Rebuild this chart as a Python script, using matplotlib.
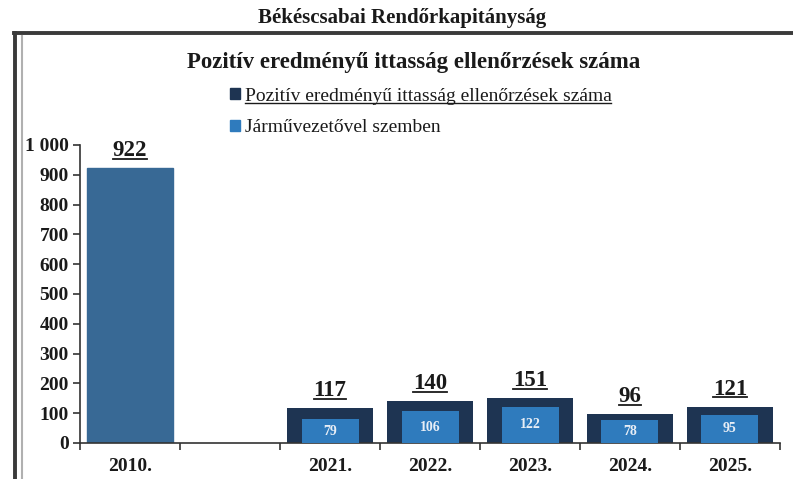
import numpy as np
import matplotlib
matplotlib.use("Agg")
import matplotlib.pyplot as plt
from matplotlib.patches import Patch
from matplotlib.lines import Line2D
from matplotlib.ticker import FixedLocator, FuncFormatter

plt.rcParams['font.family'] = ['Liberation Serif', 'DejaVu Serif']

# data
years = ['2010.', '', '2021.', '2022.', '2023.', '2024.', '2025.']
total = [922, np.nan, 117, 140, 151, 96, 121]
driver = [np.nan, np.nan, 79, 106, 122, 78, 95]
series_names = ['Pozitív eredményű ittasság ellenőrzések száma',
                'Járművezetővel szemben']

c_first = '#386995'
c_total = '#1e3452'
c_driver = '#2f7bbd'

fig = plt.figure(figsize=(7.93, 4.79), dpi=100)
ax = fig.add_axes([0.1009, 0.0752, 0.8827, 0.6221])

x = np.arange(len(years))
bars = ax.bar(x, total, width=0.86, color=c_total, zorder=2)
bars[0].set_color(c_first)
inner = ax.bar(x, driver, width=0.57, color=c_driver, zorder=3)

ax.set_xlim(-0.5, len(years) - 0.5)
ax.set_ylim(0, 1000)

# axes styling
for s in ['top', 'right']:
    ax.spines[s].set_visible(False)
ax.spines['left'].set_color('#333333')
ax.spines['bottom'].set_color('#333333')
ax.spines['left'].set_linewidth(1.2)
ax.spines['bottom'].set_linewidth(1.2)

ax.set_yticks(np.arange(0, 1001, 100))
ax.yaxis.set_major_formatter(FuncFormatter(
    lambda v, p: f'{int(v):,}'.replace(',', ' ')))
ax.tick_params(axis='y', length=5, width=1.2, color='#333333', labelsize=14, pad=3)

ax.set_xticks(x)
ax.set_xticklabels(years)
ax.xaxis.set_minor_locator(FixedLocator(np.arange(-0.5, len(years), 1.0)))
ax.tick_params(axis='x', which='major', length=0, labelsize=14, pad=11)
ax.tick_params(axis='x', which='minor', length=5, width=1.2, color='#333333')
for lab in ax.get_xticklabels() + ax.get_yticklabels():
    lab.set_fontweight('bold')
    lab.set_color('#1a1a1a')

# value labels
top_labels = []
for xi, v in zip(x, total):
    if np.isnan(v):
        continue
    t = ax.annotate(f'{int(v)}', (xi, v), xytext=(0, 5), textcoords='offset points',
                    ha='center', va='bottom', fontsize=16.5, fontweight='bold',
                    color='#1a1a1a')
    top_labels.append(t)
for xi, v in zip(x, driver):
    if np.isnan(v):
        continue
    ax.text(xi, v / 2, f'{int(v)}', ha='center', va='center', fontsize=10,
            fontweight='bold', color='#e8eef6', zorder=4)

# titles
fig.text(0.507, 0.962, 'Békéscsabai Rendőrkapitányság', ha='center', va='center',
         fontsize=15, fontweight='bold', color='#1a1a1a')
fig.text(0.521, 0.869, 'Pozitív eredményű ittasság ellenőrzések száma',
         ha='center', va='center', fontsize=16.5, fontweight='bold', color='#1a1a1a')

# legend
handles = [Patch(color=c_total), Patch(color=c_driver)]
leg = fig.legend(handles, series_names, loc='upper left',
                 bbox_to_anchor=(0.290, 0.817), frameon=False, fontsize=14,
                 handlelength=0.5, handleheight=0.5, handletextpad=0.25,
                 labelspacing=0.75, borderpad=0, borderaxespad=0)
for t in leg.get_texts():
    t.set_color('#1a1a1a')

# frame around the chart
fig.add_artist(Line2D([14 / 793, 1.0], [1 - 33 / 479, 1 - 33 / 479],
                      transform=fig.transFigure, color='#3a3a3a', lw=2.8))
fig.add_artist(Line2D([15 / 793, 15 / 793], [0, 1 - 33 / 479],
                      transform=fig.transFigure, color='#3a3a3a', lw=2.8))
fig.add_artist(Line2D([22 / 793, 22 / 793], [0, 1 - 36 / 479],
                      transform=fig.transFigure, color='#b0b0b0', lw=1.5))

# underline value labels and first legend entry
fig.canvas.draw()
r = fig.canvas.get_renderer()
inv = fig.transFigure.inverted()


def underline(txt, lw=1.3, off=1.0):
    bb = txt.get_window_extent(r)
    (x0, y0), (x1, _) = inv.transform([(bb.x0, bb.y0 + off), (bb.x1, bb.y1)])
    fig.add_artist(Line2D([x0, x1], [y0, y0], transform=fig.transFigure,
                          color='#1a1a1a', lw=lw))


for t in top_labels:
    underline(t, off=2.5)
underline(leg.get_texts()[0], lw=1.0, off=1.5)

fig.savefig('out.png', dpi=100, facecolor='white')
